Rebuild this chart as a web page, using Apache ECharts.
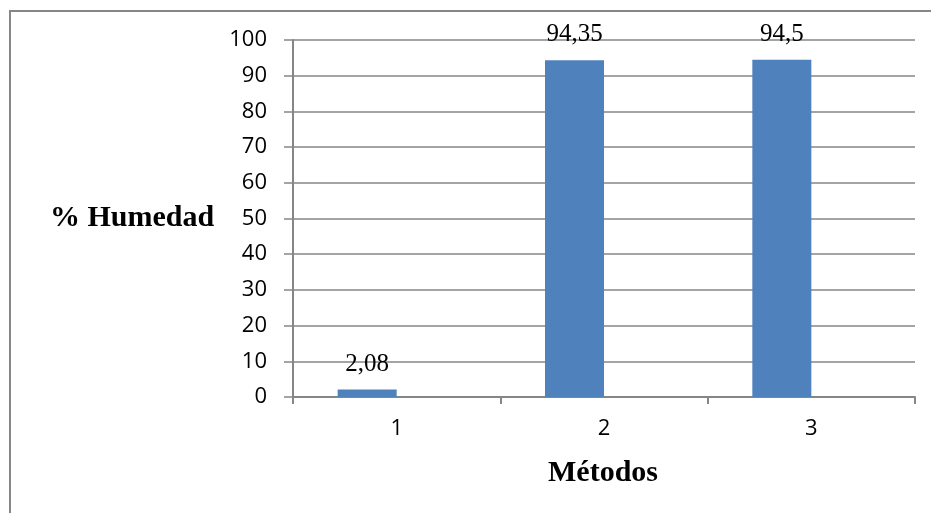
<!DOCTYPE html>
<html><head><meta charset="utf-8">
<script src="https://cdn.jsdelivr.net/npm/echarts@6/dist/echarts.min.js"></script>
<style>html,body{margin:0;padding:0;background:#fff}#c{width:931px;height:513px}</style>
</head><body><div id="c"></div>
<script>
const categories = ['1', '2', '3'];
const humedad = [2.08, 94.35, 94.5];
const labelsText = ['2,08', '94,35', '94,5'];
const yTicks = [0, 10, 20, 30, 40, 50, 60, 70, 80, 90, 100];
const yTitle = '% Humedad';
const xTitle = 'Métodos';

const chart = echarts.init(document.getElementById('c'), null, {renderer: 'canvas'});
const gray = '#868686';
const sans = 'Open Sans, Liberation Sans, sans-serif';
const serif = 'Liberation Serif, DejaVu Serif, serif';
chart.setOption({
  animation: false,
  backgroundColor: '#fff',
  grid: {left: 293, right: 16, top: 40, bottom: 116, containLabel: false},
  xAxis: {
    type: 'category', data: categories, boundaryGap: true,
    axisLine: {lineStyle: {color: gray, width: 2}},
    axisTick: {show: true, length: 7, lineStyle: {color: gray, width: 2}},
    axisLabel: {color: '#000', fontFamily: sans, fontSize: 22, margin: 21}
  },
  yAxis: {
    type: 'value', min: yTicks[0], max: yTicks[yTicks.length - 1], interval: 10,
    axisLine: {show: true, lineStyle: {color: gray, width: 2}},
    axisTick: {show: true, inside: false, length: 9, lineStyle: {color: gray, width: 1.5}},
    axisLabel: {color: '#000', fontFamily: sans, fontSize: 22, margin: 26},
    splitLine: {show: true, lineStyle: {color: gray, width: 1.5}}
  },
  series: [
    {
      type: 'bar', data: humedad, barWidth: 59, barGap: '0%',
      itemStyle: {color: '#4F81BD'},
      label: {
        show: true, position: 'top', distance: 13,
        fontFamily: serif, fontSize: 25, color: '#000',
        formatter: p => labelsText[p.dataIndex]
      }
    },
    {type: 'bar', data: [null, null, null], barWidth: 59, barGap: '0%'}
  ],
  graphic: [
    {type: 'rect', shape: {x: 10, y: 11, width: 1000, height: 600}, style: {fill: 'none', stroke: gray, lineWidth: 2}, silent: true},
    {type: 'text', x: 50, y: 218, style: {text: yTitle, fontFamily: serif, fontSize: 30, fontWeight: 'bold', fill: '#000', align: 'left', verticalAlign: 'middle'}},
    {type: 'text', x: 603, y: 473, style: {text: xTitle, fontFamily: serif, fontSize: 30, fontWeight: 'bold', fill: '#000', align: 'center', verticalAlign: 'middle'}}
  ]
});
</script></body></html>
